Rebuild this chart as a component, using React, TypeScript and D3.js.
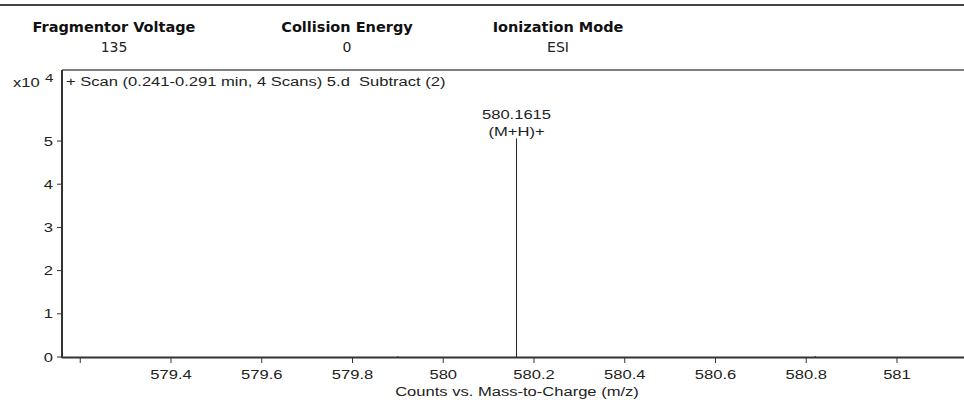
import React from 'react';
import * as d3 from 'd3';

// header parameters
const headerTitles = ['Fragmentor Voltage', 'Collision Energy', 'Ionization Mode'];
const headerValues = ['135', '0', 'ESI'];

// spectrum peaks (m/z, counts)
const peakMz = [579.9, 580.1615, 580.82];
const peakCounts = [200, 50600, 200];
const peakLabels = ['', '580.1615\n(M+H)+', ''];

const xTicks = [579.2, 579.4, 579.6, 579.8, 580, 580.2, 580.4, 580.6, 580.8, 581];
const xTickLabels = ['', '579.4', '579.6', '579.8', '580', '580.2', '580.4', '580.6', '580.8', '581'];
const yTicks = [0, 1, 2, 3, 4, 5];

const scanLabel = '+ Scan (0.241-0.291 min, 4 Scans) 5.d  Subtract (2)';
const xAxisTitle = 'Counts vs. Mass-to-Charge (m/z)';

const W = 964;
const H = 400;
const left = 62;
const top = 70;
const bottom = 357;
const STRETCH = 1.38; // the plot text in the source is wide

const sans = 'Liberation Sans, Arial, sans-serif';
const wide = 'DejaVu Sans, Verdana, sans-serif';

// text drawn with a horizontal stretch around its anchor
const T: React.FC<{ x: number; y: number; anchor?: string; size?: number; children: React.ReactNode }> = ({
  x,
  y,
  anchor = 'start',
  size = 12,
  children,
}) => (
  <text
    transform={`translate(${x},${y}) scale(${STRETCH},1)`}
    textAnchor={anchor}
    fontFamily={sans}
    fontSize={size}
    fill="#222"
    style={{ whiteSpace: 'pre' }}
  >
    {children}
  </text>
);

const App: React.FC = () => {
  const x = d3.scaleLinear().domain([579.1598, 581.1477]).range([left, W]);
  const y = d3.scaleLinear().domain([0, 6.644]).range([bottom, top]);
  const headerX = [114, 347, 558];

  return (
    <div style={{ position: 'fixed', left: 0, top: 0, background: '#fff' }}>
      <svg width={W} height={H} style={{ display: 'block' }}>
        <rect width={W} height={H} fill="#fff" />
        {/* header band */}
        <line x1={0} x2={W} y1={5} y2={5} stroke="#444" strokeWidth={2} />
        {headerTitles.map((t, i) => (
          <g key={t}>
            <text x={headerX[i]} y={32} textAnchor="middle" fontFamily={wide} fontWeight="bold" fontSize={14.5} fill="#111">
              {t}
            </text>
            <text x={headerX[i]} y={52} textAnchor="middle" fontFamily={wide} fontSize={14} fill="#222">
              {headerValues[i]}
            </text>
          </g>
        ))}
        <line x1={left} x2={W} y1={top} y2={top} stroke="#555" strokeWidth={1.5} />

        {/* frame */}
        <line x1={left} x2={left} y1={top} y2={bottom + 1} stroke="#333" strokeWidth={2} />
        <line x1={left} x2={W} y1={bottom + 0.5} y2={bottom + 0.5} stroke="#333" strokeWidth={2} />

        {/* y axis */}
        {yTicks.map((t) => (
          <g key={t}>
            <line x1={left - 5} x2={left} y1={y(t)} y2={y(t)} stroke="#333" strokeWidth={1} />
            <T x={left - 9} y={y(t) + 4.5} anchor="end">
              {t}
            </T>
          </g>
        ))}
        <T x={13} y={87}>x10</T>
        <T x={45} y={82} size={11}>4</T>

        {/* x axis */}
        {xTicks.map((t, i) => (
          <g key={t}>
            <line x1={x(t)} x2={x(t)} y1={bottom + 1} y2={bottom + 6} stroke="#333" strokeWidth={1} />
            <T x={x(t)} y={379} anchor="middle">
              {xTickLabels[i]}
            </T>
          </g>
        ))}
        <T x={517} y={396} anchor="middle">
          {xAxisTitle}
        </T>

        <T x={66} y={86}>{scanLabel}</T>

        {/* peaks */}
        {peakMz.map((m, i) => {
          const lines = peakLabels[i].split('\n').filter((s) => s);
          const py = y(peakCounts[i] / 10000);
          return (
            <g key={m}>
              <line x1={x(m)} x2={x(m)} y1={bottom} y2={py} stroke="#222" strokeWidth={1} />
              {lines.map((s, j) => (
                <T key={s} x={x(m)} y={py - 2.5 - (lines.length - 1 - j) * 17} anchor="middle">
                  {s}
                </T>
              ))}
            </g>
          );
        })}
      </svg>
    </div>
  );
};

export default App;
